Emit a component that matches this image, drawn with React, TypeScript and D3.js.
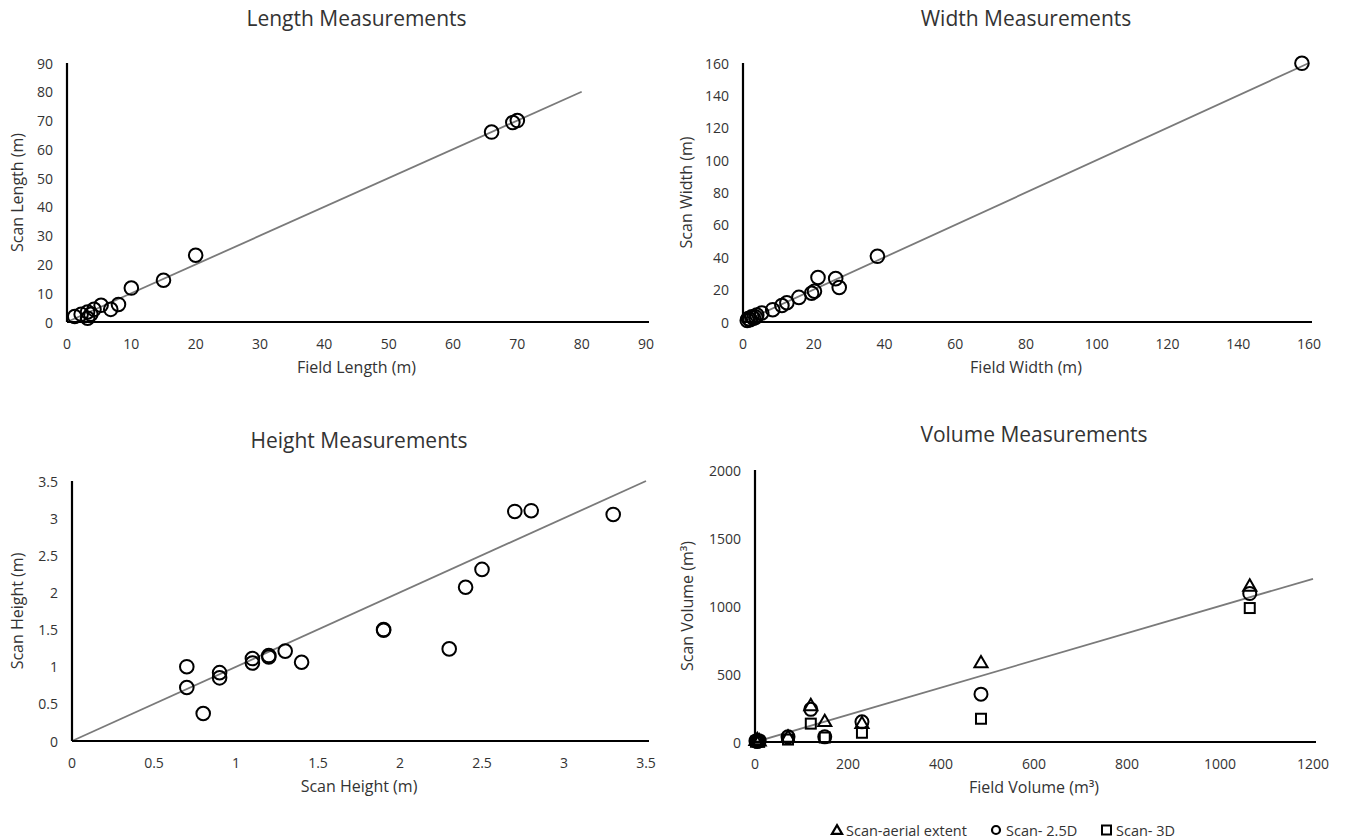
import React from "react";
import * as d3 from "d3";

// ---------- DATA ----------
const lengthField = [1.2, 2.2, 3.2, 3.2, 3.7, 4.2, 5.3, 6.8, 8.0, 10, 15, 20, 66, 69.3, 70];
const lengthScan = [1.9, 2.7, 3.5, 1.3, 2.7, 4.4, 5.8, 4.4, 6.1, 11.8, 14.5, 23.2, 66, 69.3, 70];

const widthField = [1.2, 1.5, 2.0, 2.5, 3.0, 3.6, 3.9, 5.3, 8.4, 11.0, 12.4, 15.8, 19.4, 20.2, 21.2, 26.2, 27.2, 38, 158];
const widthScan = [1.0, 2.1, 1.4, 3.2, 2.3, 3.0, 4.3, 5.6, 7.6, 10.2, 11.9, 15.2, 17.8, 19.0, 27.5, 26.8, 21.3, 40.6, 159.8];

const heightField = [0.7, 0.7, 0.8, 0.9, 0.9, 1.1, 1.1, 1.2, 1.2, 1.3, 1.4, 1.9, 1.9, 2.3, 2.4, 2.5, 2.7, 2.8, 3.3];
const heightScan = [1.0, 0.72, 0.37, 0.92, 0.85, 1.11, 1.05, 1.15, 1.13, 1.21, 1.06, 1.5, 1.49, 1.24, 2.07, 2.31, 3.09, 3.1, 3.05];

const volumeField = [2, 5, 9, 71, 120, 150, 230, 486, 1064];
const volumeAerial = [5, 12, 3, 30, 262, 145, 130, 577, 1140];
const volume25D = [8, 3, 10, 38, 240, 38, 148, 352, 1092];
const volume3D = [2, 6, 1, 18, 135, 33, 68, 171, 985];

const lengthTicks = [0, 10, 20, 30, 40, 50, 60, 70, 80, 90];
const widthTicks = [0, 20, 40, 60, 80, 100, 120, 140, 160];
const heightTicks = [0, 0.5, 1, 1.5, 2, 2.5, 3, 3.5];
const volumeXTicks = [0, 200, 400, 600, 800, 1000, 1200];
const volumeYTicks = [0, 500, 1000, 1500, 2000];

const legendLabels = ["Scan-aerial extent", "Scan- 2.5D", "Scan- 3D"];

// ---------- STYLE ----------
const FONT = "'Open Sans', 'Noto Sans', sans-serif";
const TICK_COLOR = "#333";
const TITLE_COLOR = "#333";
const AXIS_TITLE_COLOR = "#333";
const LINE_COLOR = "#7a7a7a";

type PanelProps = {
  title: string;
  titleY: number;
  xTitle: string;
  yTitle: string;
  yTitleX: number;
  x0: number; x1: number; y0: number; y1: number;
  xDomain: [number, number];
  yDomain: [number, number];
  xTicks: number[];
  yTicks: number[];
  lineTo: number;
  children?: (x: d3.ScaleLinear<number, number>, y: d3.ScaleLinear<number, number>) => React.ReactNode;
};

function Panel(p: PanelProps) {
  const x = d3.scaleLinear().domain(p.xDomain).range([p.x0, p.x1]);
  const y = d3.scaleLinear().domain(p.yDomain).range([p.y0, p.y1]);
  const cx = (p.x0 + p.x1) / 2;
  const cy = (p.y0 + p.y1) / 2;
  const line = d3.line<number>().x((d) => x(d)).y((d) => y(d));
  return (
    <g>
      <text x={cx} y={p.titleY} textAnchor="middle" dominantBaseline="central"
        fontFamily={FONT} fontSize={21} fill={TITLE_COLOR}>{p.title}</text>
      {p.yTicks.map((t) => (
        <text key={"y" + t} x={p.x0 - 14} y={y(t)} textAnchor="end" dominantBaseline="central"
          fontFamily={FONT} fontSize={14} fill={TICK_COLOR}>{String(t)}</text>
      ))}
      {p.xTicks.map((t) => (
        <text key={"x" + t} x={x(t)} y={p.y0 + 21} textAnchor="middle" dominantBaseline="central"
          fontFamily={FONT} fontSize={14} fill={TICK_COLOR}>{String(t)}</text>
      ))}
      <text x={cx} y={p.y0 + 45} textAnchor="middle" dominantBaseline="central"
        fontFamily={FONT} fontSize={16} fill={AXIS_TITLE_COLOR}>{p.xTitle}</text>
      <text transform={`translate(${p.yTitleX},${cy}) rotate(-90)`} textAnchor="middle" dominantBaseline="central"
        fontFamily={FONT} fontSize={16} fill={AXIS_TITLE_COLOR}>{p.yTitle}</text>
      <path d={line([0, p.lineTo]) || ""} stroke={LINE_COLOR} strokeWidth={1.8} fill="none" />
      {p.children && p.children(x, y)}
      <line x1={p.x0} x2={p.x0} y1={p.y0} y2={y(p.yDomain[1])} stroke="#000" strokeWidth={2.2} />
      <line x1={p.x0} x2={x(p.xDomain[1]) + 3} y1={p.y0} y2={p.y0} stroke="#000" strokeWidth={2.2} />
    </g>
  );
}

const circles = (xs: number[], ys: number[], x: any, y: any, r = 6.8) =>
  xs.map((v, i) => (
    <circle key={i} cx={x(v)} cy={y(ys[i])} r={r} fill="none" stroke="#000" strokeWidth={2} />
  ));

const triPath = d3.symbol().type(d3.symbolTriangle).size(75)() || "";
const legTriPath = d3.symbol().type(d3.symbolTriangle).size(45)() || "";

export default function App() {
  return (
    <svg width={1346} height={838} style={{ display: "block", position: "absolute", left: 0, top: 0, background: "#fff" }}>
      <rect width={1346} height={838} fill="#fff" />
      <Panel title="Length Measurements" titleY={18} xTitle="Field Length (m)" yTitle="Scan Length (m)" yTitleX={17}
        x0={67} x1={646} y0={322} y1={63} xDomain={[0, 90]} yDomain={[0, 90]}
        xTicks={lengthTicks} yTicks={lengthTicks} lineTo={80}>
        {(x, y) => circles(lengthField, lengthScan, x, y)}
      </Panel>
      <Panel title="Width Measurements" titleY={18} xTitle="Field Width (m)" yTitle="Scan Width (m)" yTitleX={686}
        x0={743} x1={1309} y0={322} y1={63} xDomain={[0, 160]} yDomain={[0, 160]}
        xTicks={widthTicks} yTicks={widthTicks} lineTo={160}>
        {(x, y) => circles(widthField, widthScan, x, y)}
      </Panel>
      <Panel title="Height Measurements" titleY={440} xTitle="Scan Height (m)" yTitle="Scan Height (m)" yTitleX={17}
        x0={72} x1={646} y0={741} y1={481} xDomain={[0, 3.5]} yDomain={[0, 3.5]}
        xTicks={heightTicks} yTicks={heightTicks} lineTo={3.5}>
        {(x, y) => circles(heightField, heightScan, x, y)}
      </Panel>
      <Panel title="Volume Measurements" titleY={434} xTitle="Field Volume (m³)" yTitle="Scan Volume (m³)" yTitleX={687}
        x0={755} x1={1313} y0={742} y1={470} xDomain={[0, 1200]} yDomain={[0, 2000]}
        xTicks={volumeXTicks} yTicks={volumeYTicks} lineTo={1200}>
        {(x, y) => (
          <g>
            {volumeField.map((v, i) => (
              <path key={"t" + i} d={triPath} transform={`translate(${x(v)},${y(volumeAerial[i])})`}
                fill="none" stroke="#000" strokeWidth={2} />
            ))}
            {circles(volumeField, volume25D, x, y, 6.5)}
            {volumeField.map((v, i) => (
              <rect key={"s" + i} x={x(v) - 5} y={y(volume3D[i]) - 5} width={10} height={10}
                fill="none" stroke="#000" strokeWidth={2} />
            ))}
          </g>
        )}
      </Panel>
      {/* Legend */}
      <g fontFamily={FONT} fontSize={14.5} fill={TICK_COLOR}>
        <path d={legTriPath} transform="translate(837,831)" fill="none" stroke="#000" strokeWidth={2.2} />
        <text x={846} y={830} dominantBaseline="central">{legendLabels[0]}</text>
        <circle cx={996} cy={830} r={4} fill="none" stroke="#000" strokeWidth={2.2} />
        <text x={1006} y={830} dominantBaseline="central">{legendLabels[1]}</text>
        <rect x={1102} y={825.5} width={9} height={9} fill="none" stroke="#000" strokeWidth={2} />
        <text x={1116} y={830} dominantBaseline="central">{legendLabels[2]}</text>
      </g>
    </svg>
  );
}
